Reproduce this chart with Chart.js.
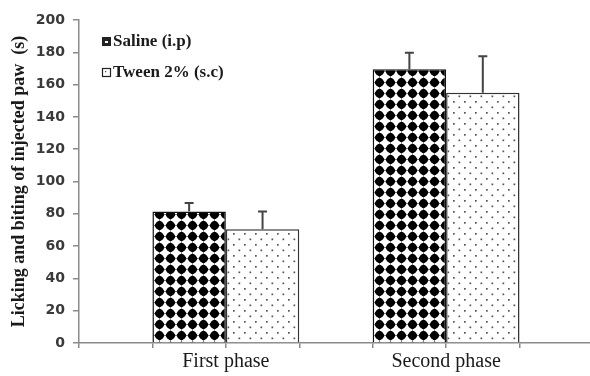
<!DOCTYPE html>
<html>
<head>
<meta charset="utf-8">
<script src="https://cdn.jsdelivr.net/npm/chart.js@4.4.1/dist/chart.umd.min.js"></script>
<style>
    html, body { margin: 0; padding: 0; background: #fff; }
    #wrap { width: 590px; height: 376px; }
</style>
</head>
<body>
<div id="wrap"><canvas id="chart" width="590" height="376"></canvas></div>
<script>
// values
const phases = ['First phase', 'Second phase'];
const seriesNames = ['Saline (i.p)', 'Tween 2% (s.c)'];
const salineMean = [81.5, 169.5];
const salineErr = [5.2, 10.2];
const tweenMean = [70.5, 155];
const tweenErr = [11, 22.5];
const yTicks = [0, 20, 40, 60, 80, 100, 120, 140, 160, 180, 200];

// fill patterns, drawn once on small tiles
function diamondPattern() {
    const c = document.createElement('canvas');
    c.width = 11; c.height = 11;
    const g = c.getContext('2d');
    g.fillStyle = '#fff';
    g.fillRect(0, 0, 11, 11);
    g.fillStyle = '#000';
    g.beginPath();
    g.moveTo(5.5, 0.2);
    g.lineTo(10.8, 5.5);
    g.lineTo(5.5, 10.8);
    g.lineTo(0.2, 5.5);
    g.closePath();
    g.fill();
    g.beginPath();
    g.arc(5.5, 5.5, 4.4, 0, Math.PI * 2);
    g.fill();
    return g.createPattern(c, 'repeat');
}

function dotPattern() {
    const c = document.createElement('canvas');
    c.width = 11; c.height = 11;
    const g = c.getContext('2d');
    g.fillStyle = '#fff';
    g.fillRect(0, 0, 11, 11);
    g.fillStyle = '#555';
    g.fillRect(2, 2, 1.7, 1.7);
    g.fillRect(7.5, 7.5, 1.7, 1.7);
    return g.createPattern(c, 'repeat');
}

// each phase sits at 2 + 3*i on a 0..7 axis, like the Excel layout
function toPoints(values) {
    return values.map((v, i) => ({ x: 2 + 3 * i, y: v }));
}

const errBars = {
    id: 'errBars',
    afterDatasetsDraw(chart) {
        const ctx = chart.ctx;
        const yScale = chart.scales.y;
        ctx.save();
        ctx.strokeStyle = '#444';
        ctx.lineWidth = 2;
        chart.data.datasets.forEach((ds, di) => {
            const meta = chart.getDatasetMeta(di);
            meta.data.forEach((bar, i) => {
                const top = yScale.getPixelForValue(ds.data[i].y + ds.errors[i]);
                ctx.beginPath();
                ctx.moveTo(bar.x, bar.y);
                ctx.lineTo(bar.x, top);
                ctx.moveTo(bar.x - 4.5, top);
                ctx.lineTo(bar.x + 4.5, top);
                ctx.stroke();
            });
        });
        ctx.restore();
    }
};

const insideLegend = {
    id: 'insideLegend',
    afterDraw(chart) {
        const ctx = chart.ctx;
        const rows = [42, 73];
        ctx.save();
        chart.data.datasets.forEach((ds, di) => {
            const y = rows[di];
            const x = 102;
            ctx.lineWidth = 1.2;
            ctx.strokeStyle = '#222';
            if (di === 0) {
                ctx.fillStyle = '#222';
                ctx.fillRect(x, y - 5, 9, 9);
                ctx.fillStyle = '#fff';
                ctx.fillRect(x + 3, y - 1, 3, 2);
            } else {
                ctx.fillStyle = '#fff';
                ctx.fillRect(x, y - 5, 9, 9);
                ctx.strokeRect(x + 0.5, y - 4.5, 8, 8);
                ctx.fillStyle = '#444';
                ctx.fillRect(x + 3, y - 2, 1.2, 1.2);
            }
            ctx.fillStyle = '#1a1a1a';
            ctx.font = 'bold 17px "Liberation Serif"';
            ctx.textBaseline = 'middle';
            ctx.fillText(ds.label, x + 11, y);
        });
        ctx.restore();
    }
};

const ctx = document.getElementById('chart').getContext('2d');
const chart = new Chart(ctx, {
    type: 'bar',
    data: {
        datasets: [{
            label: seriesNames[0],
            data: toPoints(salineMean),
            errors: salineErr,
            backgroundColor: diamondPattern(),
            borderColor: '#111',
            borderWidth: 1.5
        }, {
            label: seriesNames[1],
            data: toPoints(tweenMean),
            errors: tweenErr,
            backgroundColor: dotPattern(),
            borderColor: '#333',
            borderWidth: 1.5
        }]
    },
    options: {
        responsive: false,
        devicePixelRatio: 1,
        animation: false,
        // bar groups span two tick intervals on the x axis
        categoryPercentage: 2,
        barPercentage: 1,
        layout: { padding: { top: 20, right: 0, bottom: 0, left: 0 } },
        plugins: {
            legend: { display: false },
            tooltip: { enabled: false }
        },
        scales: {
            x: {
                type: 'linear',
                offset: false,
                min: 0,
                max: 6.96,
                grid: { offset: false, drawOnChartArea: false, drawTicks: true, tickLength: 5, color: '#8a8a8a', lineWidth: 1.5 },
                border: { color: '#8a8a8a', width: 1.5 },
                ticks: {
                    stepSize: 1,
                    includeBounds: false,
                    autoSkip: false,
                    maxRotation: 0,
                    padding: 5,
                    color: '#1a1a1a',
                    font: { family: '"Liberation Serif"', size: 20, lineHeight: 0.9 },
                    callback: (v) => {
                        const i = (v - 2) / 3;
                        return Number.isInteger(i) && phases[i] ? phases[i] : '';
                    }
                }
            },
            y: {
                min: 0,
                max: 200,
                afterFit: (scale) => { scale.width = 79; },
                afterBuildTicks: (scale) => { scale.ticks = yTicks.map(v => ({ value: v })); },
                grid: { drawOnChartArea: false, drawTicks: true, tickLength: 6, color: '#8a8a8a', lineWidth: 1.5 },
                border: { color: '#8a8a8a', width: 1.5 },
                ticks: {
                    padding: 8,
                    color: '#3a3a3a',
                    font: { family: '"DejaVu Sans"', size: 14, weight: 'bold' }
                },
                title: {
                    display: true,
                    text: 'Licking and biting of injected paw  (s)',
                    color: '#1a1a1a',
                    padding: { top: 9, bottom: 0 },
                    font: { family: '"Liberation Serif"', size: 18, weight: 'bold' }
                }
            }
        }
    },
    plugins: [errBars, insideLegend]
});
</script>
</body>
</html>
